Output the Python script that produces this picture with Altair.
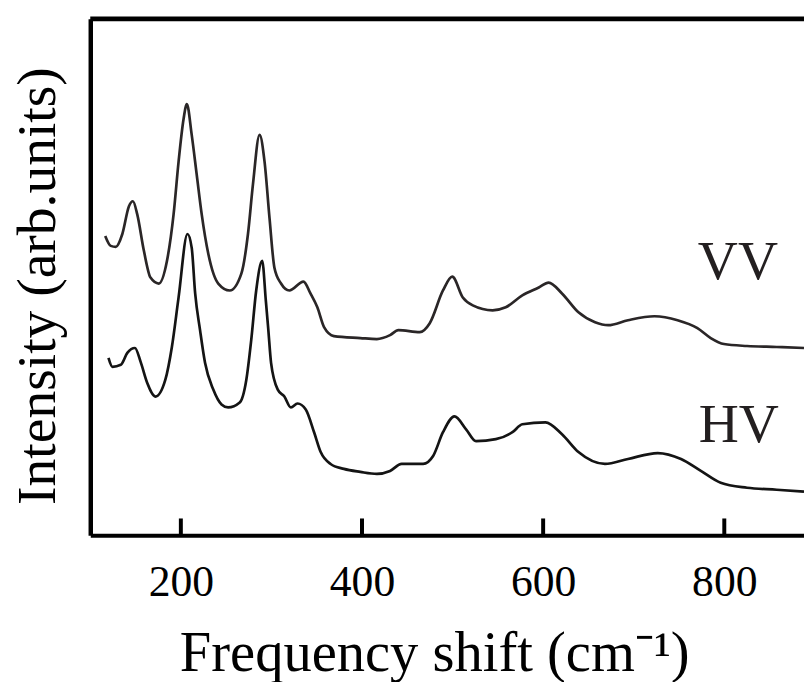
import altair as alt
import pandas as pd

# ---- data ----
freq_vv = [116.5, 122.6, 128.2, 135.4, 142.7, 147.1, 151.8, 159.2, 166.5, 175.6,
           184.7, 192.0, 197.5, 203.0, 206.6, 212.0, 217.5, 223.0, 230.3, 241.3,
           254.1, 266.8, 274.1, 279.6, 286.9, 292.4, 297.9, 303.3, 310.6, 319.8,
           335.4, 343.1, 350.7, 358.1, 369.0, 398.1, 416.4, 431.0, 440.2, 463.8,
           474.8, 489.4, 499.6, 511.3, 522.3, 544.2, 558.7, 577.0, 595.2, 606.1,
           620.8, 639.0, 657.3, 671.8, 693.7, 722.9, 748.4, 770.3, 785.0, 799.6,
           825.1, 857.9, 888.0]
int_vv = [3.02, 2.92, 2.91, 3.04, 3.32, 3.37, 3.24, 2.87, 2.60, 2.54,
          2.77, 3.24, 3.77, 4.20, 4.35, 4.04, 3.64, 3.24, 2.84, 2.54,
          2.47, 2.64, 3.04, 3.54, 4.04, 3.77, 3.20, 2.70, 2.54, 2.47,
          2.56, 2.44, 2.30, 2.10, 2.01, 1.99, 1.98, 2.02, 2.07, 2.05,
          2.14, 2.47, 2.61, 2.40, 2.32, 2.27, 2.30, 2.42, 2.50, 2.55,
          2.44, 2.25, 2.15, 2.12, 2.17, 2.21, 2.17, 2.09, 1.99, 1.93,
          1.91, 1.90, 1.89]

freq_hv = [120.1, 124.5, 133.7, 140.9, 149.3, 155.6, 162.8, 172.0, 182.9, 190.1,
           197.5, 207.3, 212.0, 215.8, 221.2, 226.7, 235.8, 244.9, 252.2, 265.0,
           272.3, 277.7, 283.2, 289.8, 293.8, 296.6, 299.6, 307.0, 314.3, 321.5,
           328.8, 337.9, 347.1, 354.4, 365.3, 380.0, 398.1, 416.4, 431.0, 443.8,
           467.5, 478.5, 489.4, 502.1, 514.9, 525.9, 547.8, 566.1, 577.0, 602.5,
           620.8, 639.0, 668.2, 693.7, 726.5, 752.2, 774.1, 796.0, 825.1, 857.9,
           888.0]
int_hv = [1.79, 1.70, 1.72, 1.84, 1.89, 1.75, 1.54, 1.40, 1.57, 1.90,
          2.40, 3.04, 2.90, 2.44, 2.07, 1.74, 1.47, 1.32, 1.29, 1.34,
          1.57, 1.97, 2.47, 2.77, 2.37, 2.07, 1.74, 1.47, 1.40, 1.29,
          1.33, 1.27, 1.04, 0.84, 0.72, 0.67, 0.64, 0.62, 0.65, 0.72,
          0.72, 0.80, 1.04, 1.20, 1.07, 0.95, 0.97, 1.04, 1.12, 1.14,
          1.02, 0.84, 0.72, 0.77, 0.83, 0.77, 0.65, 0.53, 0.48, 0.46,
          0.44]

label_text = ["VV", "HV"]
label_freq = [815, 816]
label_int = [2.59, 0.94]

tick_values = [200, 400, 600, 800]

X_DOMAIN = [100, 888]
Y_DOMAIN = [0, 5.21]
W, H = 720, 521
FONT = "Liberation Serif"

df = pd.concat([
    pd.DataFrame({"freq": freq_vv, "intensity": int_vv, "series": "VV"}),
    pd.DataFrame({"freq": freq_hv, "intensity": int_hv, "series": "HV"}),
])
df_lbl = pd.DataFrame({"freq": label_freq, "intensity": label_int, "text": label_text})
df_ticks = pd.DataFrame({"freq": tick_values})

xscale = alt.Scale(domain=X_DOMAIN, nice=False, zero=False)
yscale = alt.Scale(domain=Y_DOMAIN, nice=False, zero=False)

x_axis = alt.Axis(values=tick_values, tickSize=0, domainWidth=4, domainColor="black",
                  labelFont=FONT, labelFontSize=44, labelColor="black", labelPadding=26,
                  titleFont=FONT, titleFontSize=57,
                  titleFontWeight="normal", titleColor="black", titlePadding=21,
                  titleX=347, grid=False)
y_axis = alt.Axis(labels=False, ticks=False, domainWidth=4.5, domainColor="black",
                  titleFont=FONT, titleFontSize=56,
                  titleFontWeight="normal", titleColor="black", titlePadding=24,
                  titleY=269, grid=False)

X_TITLE = "Frequency shift (cm⁻¹)"
Y_TITLE = "Intensity  (arb.units)"

def xenc():
    return alt.X("freq:Q", scale=xscale, axis=x_axis, title=X_TITLE)

def yenc():
    return alt.Y("intensity:Q", scale=yscale, axis=y_axis, title=Y_TITLE)

lines = alt.Chart(df).mark_line(strokeWidth=2.7, interpolate="monotone").encode(
    x=xenc(),
    y=yenc(),
    color=alt.Color("series:N", scale=alt.Scale(domain=["VV", "HV"], range=["#2a2627", "#141414"]), legend=None),
    order=alt.Order("freq:Q"),
)

labels = alt.Chart(df_lbl).mark_text(font=FONT, fontSize=56, align="center",
                                     baseline="alphabetic", color="#231f20").encode(
    x=xenc(),
    y=yenc(),
    text="text:N",
)

ticks = alt.Chart(df_ticks).mark_rule(strokeWidth=4, color="black").encode(
    x=xenc(),
    y=alt.value(H),
    y2=alt.value(H - 17),
)

top = alt.Chart(pd.DataFrame({"a": [0]})).mark_rule(strokeWidth=5, color="black").encode(
    x=alt.value(0), x2=alt.value(W), y=alt.value(0),
)

chart = alt.layer(lines, labels, ticks, top).properties(
    width=W, height=H,
    padding={"left": 83, "top": 8, "right": 0, "bottom": 145},
    autosize=alt.AutoSizeParams(type="none"),
).configure_view(stroke=None)

chart.save("out.html", embed_options={"renderer": "svg", "actions": False})
